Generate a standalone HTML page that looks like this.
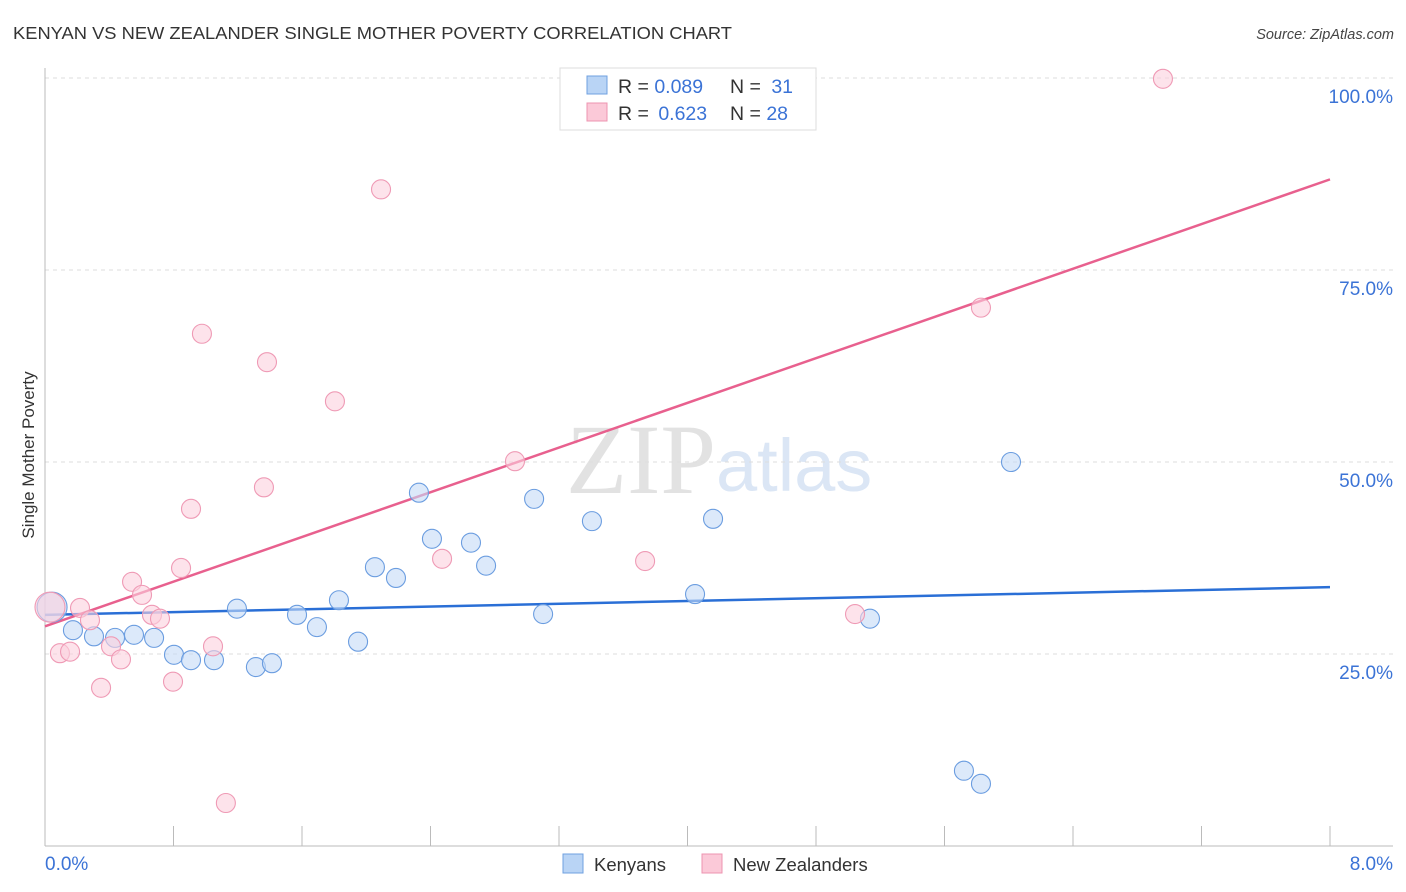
<!DOCTYPE html>
<html><head><meta charset="utf-8"><style>
body{margin:0;background:#fff;font-family:"Liberation Sans",sans-serif;}
svg{display:block}
</style></head><body>
<svg id="chart" width="1406" height="892" viewBox="0 0 1406 892">
<text x="13" y="39" font-size="17.5" fill="#333" textLength="719" lengthAdjust="spacingAndGlyphs">KENYAN VS NEW ZEALANDER SINGLE MOTHER POVERTY CORRELATION CHART</text>
<text x="1394" y="39" font-size="14.5" fill="#444" font-style="italic" text-anchor="end">Source: ZipAtlas.com</text>
<text x="716" y="493" font-size="100" font-family="Liberation Serif,serif" fill="#e2e2e2" text-anchor="end">ZIP</text>
<text x="716" y="491" font-size="74" fill="#dbe6f5">atlas</text>
<g id="grid"></g>
<g id="axes"></g>
<g id="lines"></g>
<g id="pts"></g>
<text x="34" y="455" font-size="17" fill="#333" text-anchor="middle" transform="rotate(-90 34 455)">Single Mother Poverty</text>
<g>
<rect x="560" y="68" width="256" height="62" fill="#fff" stroke="#ddd"/>
<rect x="587" y="76" width="20" height="18" fill="#b9d4f5" stroke="#6fa0e0"/>
<rect x="587" y="103" width="20" height="18" fill="#fbc9d8" stroke="#ee94b0"/>
<text x="618" y="93" font-size="19.5" fill="#333">R = <tspan fill="#3b73d6">0.089</tspan></text>
<text x="730" y="93" font-size="19.5" fill="#333">N = <tspan fill="#3b73d6" dx="5">31</tspan></text>
<text x="618" y="120" font-size="19.5" fill="#333">R = <tspan fill="#3b73d6" dx="4">0.623</tspan></text>
<text x="730" y="120" font-size="19.5" fill="#333">N = <tspan fill="#3b73d6">28</tspan></text>
</g>
<g>
<rect x="563" y="854" width="20" height="19" fill="#b9d4f5" stroke="#6fa0e0"/>
<text x="594" y="871" font-size="18.5" fill="#333">Kenyans</text>
<rect x="702" y="854" width="20" height="19" fill="#fbc9d8" stroke="#ee94b0"/>
<text x="733" y="871" font-size="18.5" fill="#333">New Zealanders</text>
</g>
</svg>
<script>
const blueX=[0.044,0.174,0.305,0.436,0.554,0.679,0.803,0.909,1.052,1.195,1.313,1.413,1.569,1.693,1.830,1.949,2.054,2.185,2.328,2.409,2.652,2.746,3.045,3.101,3.405,4.047,4.159,5.136,5.721,5.827,6.014];
const blueY=[31.1,28.1,27.3,27.1,27.5,27.1,24.9,24.2,24.2,30.9,23.3,23.8,30.1,28.5,32.0,26.6,36.3,34.9,46.0,40.0,39.5,36.5,45.2,30.2,42.3,32.8,42.6,29.6,9.8,8.1,50.0];
const pinkX=[0.031,0.093,0.156,0.218,0.280,0.349,0.411,0.473,0.542,0.604,0.666,0.716,0.797,0.847,0.909,0.977,1.046,1.126,1.363,1.382,1.805,2.092,2.472,2.926,3.736,5.043,5.827,6.960];
const pinkY=[31.1,25.1,25.3,31.0,29.4,20.6,26.0,24.3,34.4,32.7,30.1,29.6,21.4,36.2,43.9,66.7,26.0,5.6,46.7,63.0,57.9,85.5,37.4,50.1,37.1,30.2,70.1,99.9];
const blueTrend=[30.1,33.7];
const pinkTrend=[28.6,86.8];
const yTicks=[25,50,75,100];
const xTicks=[0,0.8,1.6,2.4,3.2,4.0,4.8,5.6,6.4,7.2,8.0];
const NS='http://www.w3.org/2000/svg';
const sx=v=>45+v/8*1285, sy=v=>846-v*7.68;
function mk(tag,attrs,parent){const e=document.createElementNS(NS,tag);for(const k in attrs)e.setAttribute(k,attrs[k]);document.getElementById(parent).appendChild(e);return e;}
yTicks.forEach(t=>{
  const l=mk('line',{x1:45,x2:1393,y1:sy(t),y2:sy(t),stroke:'#ddd','stroke-dasharray':'4,4'},'grid');
  
  
  const tx=mk('text',{x:1393,y:sy(t)+25,'font-size':19,fill:'#3b73d6','text-anchor':'end'},'grid');
  tx.textContent=t.toFixed(1)+'%';
  
  
});
const ax=mk('line',{x1:45,x2:45,y1:68,y2:846,stroke:'#bbb'},'axes');


const bx=mk('line',{x1:45,x2:1393,y1:846,y2:846,stroke:'#bbb'},'axes');


xTicks.forEach(t=>{
  const l=mk('line',{x1:sx(t),x2:sx(t),y1:826,y2:846,stroke:'#bbb'},'axes');
  
  
});
[[0,'start'],[8,'end']].forEach(([t,a])=>{
  const tx=mk('text',{x:t===0?45:1393,y:870,'font-size':19,fill:'#3b73d6','text-anchor':a},'axes');
  tx.textContent=t.toFixed(1)+'%';
  
  
});
function dots(X,Y,fill,stroke,name){
  X.forEach((x,i)=>{
    const c=mk('circle',{cx:sx(x),cy:sy(Y[i]),r:i===0?15:9.5,fill:fill,'fill-opacity':0.6,stroke:stroke,'stroke-width':1.1},'pts');
    
    
  });
}
dots(blueX,blueY,'#c5dbf6','#6b9de0','kenyan-point');
dots(pinkX,pinkY,'#fbd0dd','#ef9ab5','new-zealander-point');
const bl=mk('line',{x1:sx(0),y1:sy(blueTrend[0]),x2:sx(8),y2:sy(blueTrend[1]),stroke:'#2a6fd6','stroke-width':2.5},'lines');


const pl=mk('line',{x1:sx(0),y1:sy(pinkTrend[0]),x2:sx(8),y2:sy(pinkTrend[1]),stroke:'#e8608e','stroke-width':2.5},'lines');


</script>
</body></html>
